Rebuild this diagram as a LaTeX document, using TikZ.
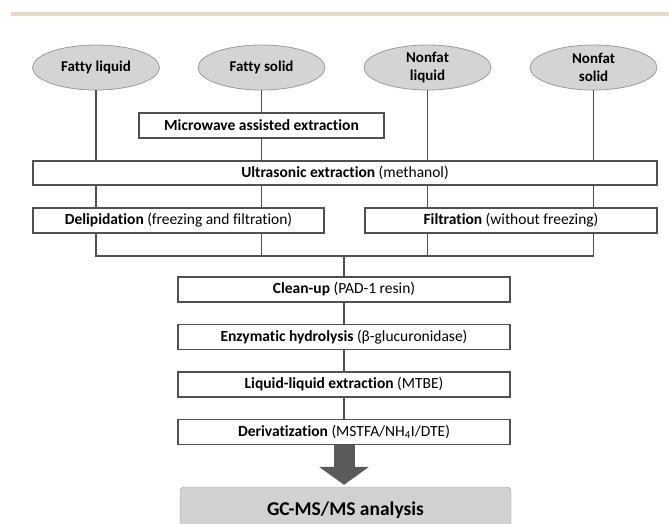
\documentclass[tikz,border=0pt]{standalone}
\usepackage{fontspec}
\setmainfont{Carlito}[Ligatures=NoCommon]
\usepackage{xcolor}
\usetikzlibrary{shapes.geometric, arrows.meta, positioning, calc}
\definecolor{linegray}{HTML}{505050}
\definecolor{ellfill}{HTML}{D4D4D4}
\definecolor{elledge}{HTML}{9A9A9A}
\definecolor{gcfill}{HTML}{D2D2D2}
\definecolor{arrowgray}{HTML}{5A5A5A}
\definecolor{barbeige}{HTML}{E0DBCB}
\tikzstyle{sample} = [ellipse, minimum width=127pt, minimum height=45pt, inner sep=0pt, align=center, draw=elledge, fill=ellfill, line width=0.8pt, font=\fontsize{15}{18}\selectfont\bfseries]
\tikzstyle{stepbox} = [rectangle, minimum height=25pt, inner ysep=0pt, text centered, draw=linegray, fill=white, line width=1.1pt, font=\fontsize{15.5}{17}\selectfont]
\tikzstyle{result} = [rectangle, rounded corners=4pt, minimum width=331pt, minimum height=46pt, text centered, draw=elledge, fill=gcfill, font=\fontsize{19.5}{23}\selectfont\bfseries]
\tikzstyle{line} = [draw=linegray, line width=1.1pt]
\tikzstyle{bigarrow} = [draw=arrowgray, line width=21pt, -{Triangle[length=18pt, width=49pt]}, shorten >=2pt]

\begin{document}
\begin{tikzpicture}[x=1pt, y=-1pt, node distance=47.5pt]
\useasboundingbox (0,0) rectangle (669,523);
\clip (0,0) rectangle (669,523);
\fill[barbeige] (11,12) rectangle (669,16);

% samples
\node (fl) [sample] at (96,67.5) {Fatty liquid};
\node (fs) [sample] at (261.5,67.5) {Fatty solid};
\node (nl) [sample] at (427.5,67.5) {Nonfat\\liquid};
\node (ns) [sample] at (593.5,67.5) {Nonfat\\solid};

% extraction
\node (mw) [stepbox, minimum width=245pt] at (261.5,125.5) {\textbf{Microwave assisted extraction}};
\node (us) [stepbox, minimum width=624pt, minimum height=24pt] at (345,173) {\textbf{Ultrasonic extraction} (methanol)};
\node (dl) [stepbox, minimum width=291pt] at (178.5,220.5) {\textbf{Delipidation} (freezing and filtration)};
\node (ft) [stepbox, minimum width=292pt] at (511,220.5) {\textbf{Filtration} (without freezing)};
\coordinate (join) at (344,256);

% sample preparation
\node (cu) [stepbox, minimum width=332pt] at (344,289.5) {\textbf{Clean-up} (PAD-1 resin)};
\node (eh) [stepbox, minimum width=332pt, below of=cu] {\textbf{Enzymatic hydrolysis} (β-glucuronidase)};
\node (ll) [stepbox, minimum width=332pt, below of=eh] {\textbf{Liquid-liquid extraction} (MTBE)};
\node (dz) [stepbox, minimum width=332pt, below of=ll] {\textbf{Derivatization} (MSTFA/NH\textsubscript{4}I/DTE)};
\node (gc) [result] at (345.5,510) {GC-MS/MS analysis};

\draw [line] (fl) -- (fl |- us.north);
\draw [line] (fs) -- (mw);
\draw [line] (mw) -- (mw |- us.north);
\draw [line] (nl) -- (nl |- us.north);
\draw [line] (ns) -- (ns |- us.north);
\draw [line] (fl |- us.south) -- (fl |- dl.north);
\draw [line] (fs |- us.south) -- (fs |- dl.north);
\draw [line] (nl |- us.south) -- (nl |- ft.north);
\draw [line] (ns |- us.south) -- (ns |- ft.north);
\draw [line] (fl |- dl.south) -- (fl |- join) -- (ns |- join) -- (ns |- ft.south);
\draw [line] (fs |- dl.south) -- (fs |- join);
\draw [line] (nl |- ft.south) -- (nl |- join);
\draw [line] (join) -- (cu);
\draw [line] (cu) -- (eh);
\draw [line] (eh) -- (ll);
\draw [line] (ll) -- (dz);
\draw [bigarrow] (dz) -- (dz |- gc.north);
\end{tikzpicture}
\end{document}
